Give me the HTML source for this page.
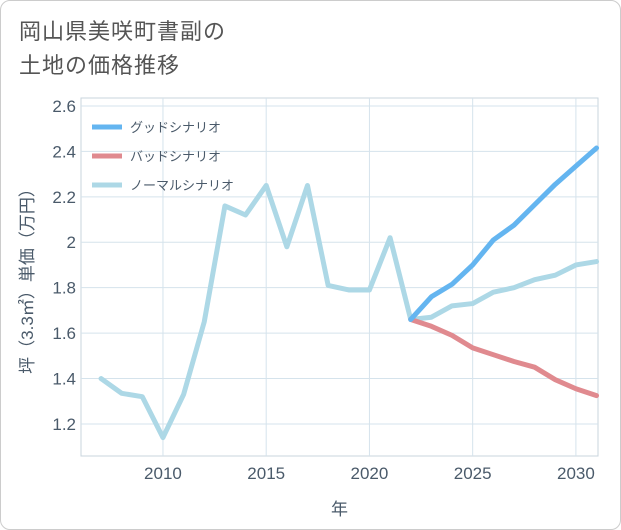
<!DOCTYPE html>
<html><head><meta charset="utf-8">
<style>
body{margin:0;background:#fff;}
#wrap{position:relative;width:619px;height:528px;border:1px solid #ccc;border-radius:10px;background:#fff;font-family:"Liberation Sans","Noto Sans CJK JP",sans-serif;overflow:hidden;}
#title{position:absolute;left:18px;top:14px;font-size:22px;line-height:34px;color:#555;letter-spacing:1px;}
svg{position:absolute;left:0;top:0;}
</style></head>
<body>
<div id="wrap">
<div id="title">岡山県美咲町書副の<br>土地の価格推移</div>
<svg id="chart" width="621" height="530"></svg>
</div>
<script>
const years=[2007,2008,2009,2010,2011,2012,2013,2014,2015,2016,2017,2018,2019,2020,2021,2022,2023,2024,2025,2026,2027,2028,2029,2030,2031];
const normal=[1.40,1.335,1.32,1.14,1.33,1.65,2.16,2.12,2.25,1.98,2.25,1.81,1.79,1.79,2.02,1.66,1.67,1.72,1.73,1.78,1.80,1.835,1.855,1.90,1.915];
const futureYears=[2022,2023,2024,2025,2026,2027,2028,2029,2030,2031];
const good=[1.66,1.76,1.815,1.90,2.01,2.075,2.165,2.255,2.335,2.415];
const bad=[1.66,1.63,1.59,1.535,1.505,1.475,1.45,1.395,1.355,1.325];
const xTicks=[2010,2015,2020,2025,2030];
const yTicks=[1.2,1.4,1.6,1.8,2,2.2,2.4,2.6];
const legendLabels=["グッドシナリオ","バッドシナリオ","ノーマルシナリオ"];
const L=80,R=597,T=97,B=455;
const X0=2006.03,X1=2031.07,Y0=1.059,Y1=2.635;
const xs=v=>L+(v-X0)/(X1-X0)*(R-L);
const ys=v=>B-(v-Y0)/(Y1-Y0)*(B-T);
const svg=document.getElementById('chart');
const NS='http://www.w3.org/2000/svg';
function mk(tag,attrs,parent){const e=document.createElementNS(NS,tag);for(const k in attrs)e.setAttribute(k,attrs[k]);(parent||svg).appendChild(e);return e;}
const bg=mk('rect',{x:L,y:T,width:R-L,height:B-T,fill:'#fff',stroke:'#c8d4de'});


xTicks.forEach(t=>{
 const g=mk('line',{x1:xs(t),x2:xs(t),y1:T,y2:B,stroke:'#d5e3ec'});
 
 
 const tx=mk('text',{x:xs(t),y:B+23,'text-anchor':'middle','font-size':17,fill:'#4a5a6a'});
 tx.textContent=t;
 
 
});
yTicks.forEach(t=>{
 const g=mk('line',{x1:L,x2:R,y1:ys(t),y2:ys(t),stroke:'#d5e3ec'});
 
 
 const tx=mk('text',{x:L-5,y:ys(t)+6,'text-anchor':'end','font-size':17,fill:'#4a5a6a'});
 tx.textContent=(t===2?'2':t.toFixed(1));
 
 
});
const xt=mk('text',{x:(L+R)/2,y:514,'text-anchor':'middle','font-size':17,fill:'#4a5a6a'});
xt.textContent='年';


const yt=mk('text',{x:0,y:0,'text-anchor':'middle','font-size':17,fill:'#4a5a6a',transform:`translate(32,${(T+B)/2}) rotate(-90)`});
yt.textContent='坪（3.3㎡）単価（万円）';


function line(xv,yv,color,name){
 const p=mk('polyline',{points:xv.map((x,i)=>xs(x)+','+ys(yv[i])).join(' '),fill:'none',stroke:color,'stroke-width':5,'stroke-linejoin':'round','stroke-linecap':'round'});
 
 
}
line(years,normal,'#add8e6','normal-scenario-line');
line(futureYears,bad,'#e08a8f','bad-scenario-line');
line(futureYears,good,'#64b5f0','good-scenario-line');
const lcols=['#64b5f0','#e08a8f','#add8e6'];
legendLabels.forEach((lab,i)=>{
 const y=126+i*29;
 const ln=mk('line',{x1:91,x2:121,y1:y,y2:y,stroke:lcols[i],'stroke-width':5});
 
 
 const tx=mk('text',{x:129,y:y+5,'font-size':13,fill:'#4a5a6a'});
 tx.textContent=lab;
 
 
});
</script>
</body></html>
